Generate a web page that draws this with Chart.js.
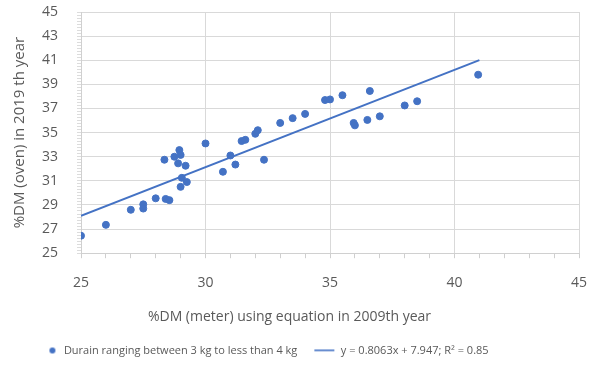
<!DOCTYPE html>
<html>
<head>
<meta charset="utf-8">
<script src="https://cdn.jsdelivr.net/npm/chart.js@4"></script>
<style>
  html, body { margin: 0; padding: 0; background: #fff; }
  #wrap { width: 597px; height: 374px; }
</style>
</head>
<body>
<div id="wrap"><canvas id="dmChart" width="597" height="374"></canvas></div>
<script>
// %DM from the meter (2009 equation) vs %DM from the oven (2019)
const meterDM = [25.0, 26.0, 27.0, 27.5, 27.5, 28.0, 28.4, 28.55, 28.35, 28.75,
                 28.95, 29.0, 28.9, 29.2, 29.05, 29.0, 29.25, 30.0, 30.7, 31.0,
                 31.2, 31.45, 31.6, 32.0, 32.1, 32.35, 33.0, 33.5, 34.0, 34.8,
                 35.0, 35.5, 36.6, 35.95, 36.0, 36.5, 37.0, 38.0, 38.5, 40.95];
const ovenDM = [26.45, 27.35, 28.6, 29.05, 28.7, 29.55, 29.5, 29.4, 32.75, 33.0,
                33.55, 33.15, 32.45, 32.25, 31.25, 30.5, 30.9, 34.1, 31.75, 33.1,
                32.35, 34.3, 34.4, 34.9, 35.2, 32.75, 35.8, 36.2, 36.55, 37.7,
                37.75, 38.1, 38.45, 35.8, 35.6, 36.05, 36.35, 37.25, 37.6, 39.8];
const slope = 0.8063;
const intercept = 7.947;
const trendX = [25, 41];
const seriesLabel = 'Durain ranging between 3 kg to less than 4 kg';
const trendLabel = 'y = 0.8063x + 7.947; R² = 0.85';

const blue = '#4472c4';
const grey = '#595959';
const font = '"Open Sans", "DejaVu Sans", sans-serif';

const points = meterDM.map((x, i) => ({ x: x, y: ovenDM[i] }));
const trend = trendX.map(x => ({ x: x, y: slope * x + intercept }));

const isOdd = v => Number.isInteger(v) && Math.abs(v % 2) === 1;

// small legend symbols: a dot and a short line
function dotIcon() {
  const c = document.createElement('canvas');
  c.width = 22; c.height = 8;
  const g = c.getContext('2d');
  g.fillStyle = blue;
  g.beginPath();
  g.arc(16, 4, 3, 0, Math.PI * 2);
  g.fill();
  return c;
}
function lineIcon() {
  const c = document.createElement('canvas');
  c.width = 22; c.height = 4;
  const g = c.getContext('2d');
  g.fillStyle = blue;
  g.fillRect(1, 1, 20, 1.6);
  return c;
}
const icons = [dotIcon(), lineIcon()];

// nudge the legend to the left like the original
const legendShift = {
  id: 'legendShift',
  afterLayout(chart) {
    chart.legend.left -= 54;
  }
};

new Chart(document.getElementById('dmChart').getContext('2d'), {
  type: 'scatter',
  data: {
    datasets: [{
      label: seriesLabel,
      data: points,
      backgroundColor: blue,
      borderColor: blue,
      pointRadius: 3.5,
      pointStyle: 'circle'
    }, {
      type: 'line',
      label: trendLabel,
      data: trend,
      borderColor: blue,
      backgroundColor: blue,
      borderWidth: 2,
      pointRadius: 0,
      fill: false
    }]
  },
  options: {
    responsive: false,
    animation: false,
    layout: { padding: { top: 12, right: 18, left: 0, bottom: 8 } },
    scales: {
      x: {
        type: 'linear',
        min: 25,
        max: 45,
        border: { color: '#d0d0d0' },
        grid: {
          color: ctx => (ctx.tick && ctx.tick.value % 5 === 0) ? '#d9d9d9' : 'rgba(0,0,0,0)',
          tickColor: '#cfcfcf',
          tickLength: 5
        },
        ticks: {
          stepSize: 1,
          autoSkip: false,
          maxRotation: 0,
          padding: 16,
          color: grey,
          font: { family: font, size: 14 },
          callback: v => v % 5 === 0 ? v : ''
        },
        afterFit(scale) {
          scale.height = 44;
          scale.paddingLeft = 0;
          scale.paddingRight = 0;
        }
      },
      y: {
        min: 25,
        max: 45,
        border: { color: '#d0d0d0' },
        grid: {
          color: ctx => (ctx.tick && isOdd(ctx.tick.value)) ? '#d9d9d9' : 'rgba(0,0,0,0)',
          tickColor: '#dcdcdc',
          tickLength: 4
        },
        ticks: {
          stepSize: 0.25,
          autoSkip: false,
          padding: 19,
          color: grey,
          font: { family: font, size: 14 },
          callback: v => isOdd(v) ? v : ''
        },
        title: {
          display: true,
          text: '%DM (oven) in 2019 th year',
          color: grey,
          font: { family: font, size: 15 },
          padding: { top: 11, bottom: 0 }
        },
        afterFit(scale) {
          scale.width = 81;
          scale.paddingTop = 0;
          scale.paddingBottom = 0;
        }
      }
    },
    plugins: {
      title: {
        display: true,
        position: 'bottom',
        weight: 500,
        text: '%DM (meter) using equation in 2009th year',
        color: grey,
        font: { family: font, size: 14, weight: 'normal' },
        padding: { top: 11, bottom: 4 }
      },
      legend: {
        position: 'bottom',
        labels: {
          usePointStyle: true,
          boxHeight: 6,
          pointStyleWidth: 22,
          padding: 16,
          color: grey,
          font: { family: font, size: 11 },
          generateLabels(chart) {
            const items = Chart.defaults.plugins.legend.labels.generateLabels(chart);
            items.forEach((item, i) => { item.pointStyle = icons[i]; });
            return items;
          }
        }
      },
      tooltip: { enabled: false }
    }
  },
  plugins: [legendShift]
});
</script>
</body>
</html>
